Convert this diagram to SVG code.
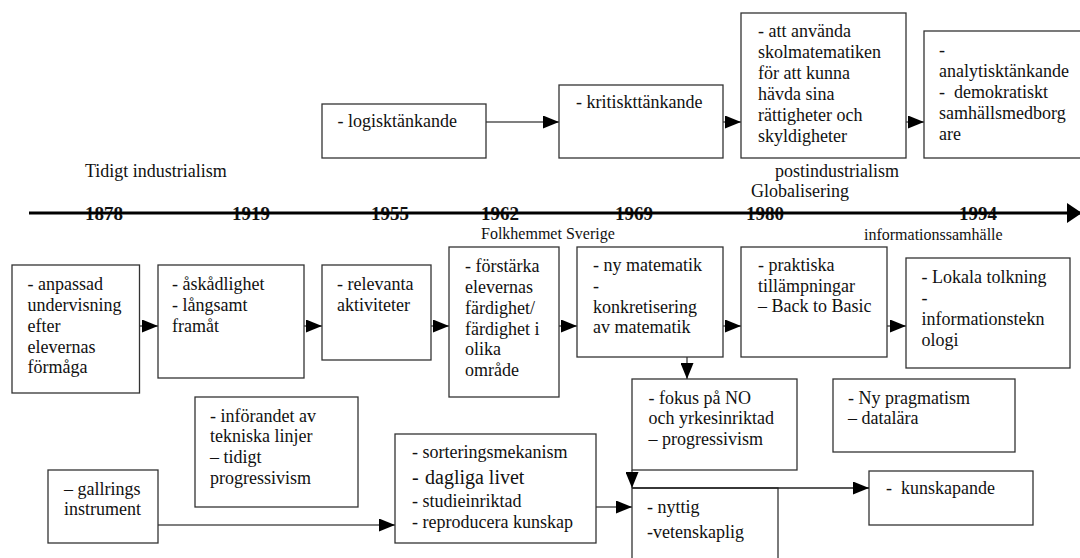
<svg xmlns="http://www.w3.org/2000/svg" width="1080" height="558" viewBox="0 0 1080 558" font-family="'Liberation Serif', 'Times New Roman', 'DejaVu Serif', serif">
<style>
.box{fill:#fff;stroke:#333;stroke-width:1.3}
.t{font-family:'Liberation Serif','Times New Roman','DejaVu Serif',serif;font-size:18px;fill:#111}
.sm{font-size:16px}
.yr{font-weight:bold;font-size:19px}
.conn{stroke:#555;stroke-width:1.5;fill:none;marker-end:url(#ah)}
</style>
<defs>
<marker id="ah" viewBox="0 0 16 13" refX="16" refY="6.5" markerWidth="16" markerHeight="13" markerUnits="userSpaceOnUse" orient="auto"><path d="M0,0L16,6.5L0,13z" fill="#000"/></marker>
<marker id="tah" viewBox="0 0 15 20" refX="15" refY="10" markerWidth="15" markerHeight="20" markerUnits="userSpaceOnUse" orient="auto"><path d="M0,0L15,10L0,20z" fill="#000"/></marker>
</defs>
<rect width="1080" height="558" fill="#fff"/>

<g id="timeline">
<text class="t" x="85" y="177">Tidigt industrialism</text>
<text class="t" x="775" y="177">postindustrialism</text>
<text class="t" x="751" y="197">Globalisering</text>
<text class="t sm" x="481" y="239">Folkhemmet Sverige</text>
<text class="t sm" x="864" y="240">informationssamhälle</text>
<text class="t yr" x="85" y="220">1878</text>
<text class="t yr" x="232" y="220">1919</text>
<text class="t yr" x="371" y="220">1955</text>
<text class="t yr" x="481" y="220">1962</text>
<text class="t yr" x="615" y="220">1969</text>
<text class="t yr" x="746" y="220">1980</text>
<text class="t yr" x="959" y="220">1994</text>
<path d="M29,213H1082" stroke="#000" stroke-width="3" fill="none" marker-end="url(#tah)"/>
</g>

<g id="connectors">
<path class="conn" d="M486,122H559"/>
<path class="conn" d="M723,122H741"/>
<path class="conn" d="M906,122H924"/>
<path class="conn" d="M139.5,326H158"/>
<path class="conn" d="M304,326H322"/>
<path class="conn" d="M431,326H449"/>
<path class="conn" d="M559,326H577"/>
<path class="conn" d="M723,326H741"/>
<path class="conn" d="M887,326H906"/>
<path class="conn" d="M687,357V379"/>
<path class="conn" d="M632,470V488"/>
<path class="conn" d="M158,525H395"/>
<path class="conn" d="M596,507H632"/>
</g>

<g id="n-logisk"><rect class="box" x="322" y="104" width="164" height="54"/>
<text class="t" x="337.5" y="127">- logisktänkande</text></g>

<g id="n-kritiskt"><rect class="box" x="559" y="85" width="164" height="73"/>
<text class="t" x="576" y="108">- kritiskttänkande</text></g>

<g id="n-anvanda"><rect class="box" x="741" y="13" width="165" height="145"/>
<text class="t"><tspan x="758" y="37">- att använda</tspan><tspan x="758" y="58">skolmatematiken</tspan><tspan x="758" y="79">för att kunna</tspan><tspan x="758" y="100">hävda sina</tspan><tspan x="758" y="121">rättigheter och</tspan><tspan x="758" y="142">skyldigheter</tspan></text></g>

<g id="n-analytisk"><rect class="box" x="924" y="31" width="170" height="127"/>
<text class="t"><tspan x="939" y="56">-</tspan><tspan x="939" y="77">analytisktänkande</tspan><tspan x="939" y="98">-&#160; demokratiskt</tspan><tspan x="939" y="119">samhällsmedborg</tspan><tspan x="939" y="140">are</tspan></text></g>

<g id="n-anpassad"><rect class="box" x="12" y="265" width="127.5" height="128"/>
<text class="t"><tspan x="27.5" y="290">- anpassad</tspan><tspan x="27.5" y="311">undervisning</tspan><tspan x="27.5" y="332">efter</tspan><tspan x="27.5" y="353">elevernas</tspan><tspan x="27.5" y="373">förmåga</tspan></text></g>

<g id="n-askadlighet"><rect class="box" x="158" y="265" width="146" height="113"/>
<text class="t"><tspan x="172" y="290">- åskådlighet</tspan><tspan x="172" y="311">- långsamt</tspan><tspan x="172" y="332">framåt</tspan></text></g>

<g id="n-relevanta"><rect class="box" x="322" y="265" width="109" height="95"/>
<text class="t"><tspan x="337" y="290">- relevanta</tspan><tspan x="337" y="311">aktiviteter</tspan></text></g>

<g id="n-forstarka"><rect class="box" x="449" y="247" width="110" height="150"/>
<text class="t"><tspan x="465" y="272">- förstärka</tspan><tspan x="465" y="293">elevernas</tspan><tspan x="465" y="314">färdighet/</tspan><tspan x="465" y="335">färdighet i</tspan><tspan x="465" y="355">olika</tspan><tspan x="465" y="376">område</tspan></text></g>

<g id="n-nymatematik"><rect class="box" x="577" y="247" width="146" height="110"/>
<text class="t"><tspan x="593" y="271">- ny matematik</tspan><tspan x="593" y="292">-</tspan><tspan x="593" y="313">konkretisering</tspan><tspan x="593" y="333">av matematik</tspan></text></g>

<g id="n-praktiska"><rect class="box" x="741" y="247" width="146" height="110"/>
<text class="t"><tspan x="758" y="271">- praktiska</tspan><tspan x="758" y="292">tillämpningar</tspan><tspan x="758" y="312">– Back to Basic</tspan></text></g>

<g id="n-lokala"><rect class="box" x="906" y="258" width="164" height="110"/>
<text class="t"><tspan x="921.5" y="283">- Lokala tolkning</tspan><tspan x="921.5" y="304">-</tspan><tspan x="921.5" y="325">informationstekn</tspan><tspan x="921.5" y="346">ologi</tspan></text></g>

<g id="n-fokus"><rect class="box" x="632" y="379" width="165" height="91"/>
<text class="t"><tspan x="648.5" y="404">- fokus på NO</tspan><tspan x="648.5" y="424">och yrkesinriktad</tspan><tspan x="648.5" y="445">– progressivism</tspan></text></g>

<g id="n-pragmatism"><rect class="box" x="833" y="379" width="182" height="73"/>
<text class="t"><tspan x="848" y="404">- Ny pragmatism</tspan><tspan x="848" y="424">– datalära</tspan></text></g>

<g id="n-inforandet"><rect class="box" x="195" y="397" width="163" height="110"/>
<text class="t"><tspan x="210" y="422">- införandet av</tspan><tspan x="210" y="442">tekniska linjer</tspan><tspan x="210" y="463">– tidigt</tspan><tspan x="210" y="484">progressivism</tspan></text></g>

<g id="n-gallrings"><rect class="box" x="48" y="470" width="110" height="73"/>
<text class="t"><tspan x="64" y="495">– gallrings</tspan><tspan x="64" y="515">instrument</tspan></text></g>

<g id="n-sortering"><rect class="box" x="395" y="434" width="201" height="109"/>
<text class="t"><tspan x="412" y="458">- sorteringsmekanism</tspan></text>
<text class="t" x="412" y="484" style="font-size:20px">-</text>
<text class="t" x="425" y="484" style="font-size:20px">dagliga livet</text>
<text class="t"><tspan x="412" y="507">- studieinriktad</tspan><tspan x="412" y="528">- reproducera kunskap</tspan></text></g>

<g id="n-nyttig"><rect class="box" x="632" y="488" width="146" height="90"/>
<text class="t"><tspan x="647" y="513">- nyttig</tspan><tspan x="647" y="538">-vetenskaplig</tspan></text></g>

<g id="n-kunskapande"><rect class="box" x="869" y="471" width="164" height="54"/>
<text class="t" x="886" y="494">-&#160; kunskapande</text></g>

<g id="connectors-top">
<path d="M632,488H869" stroke="#222" stroke-width="1.5" fill="none" marker-end="url(#ah)"/>
</g>
</svg>
